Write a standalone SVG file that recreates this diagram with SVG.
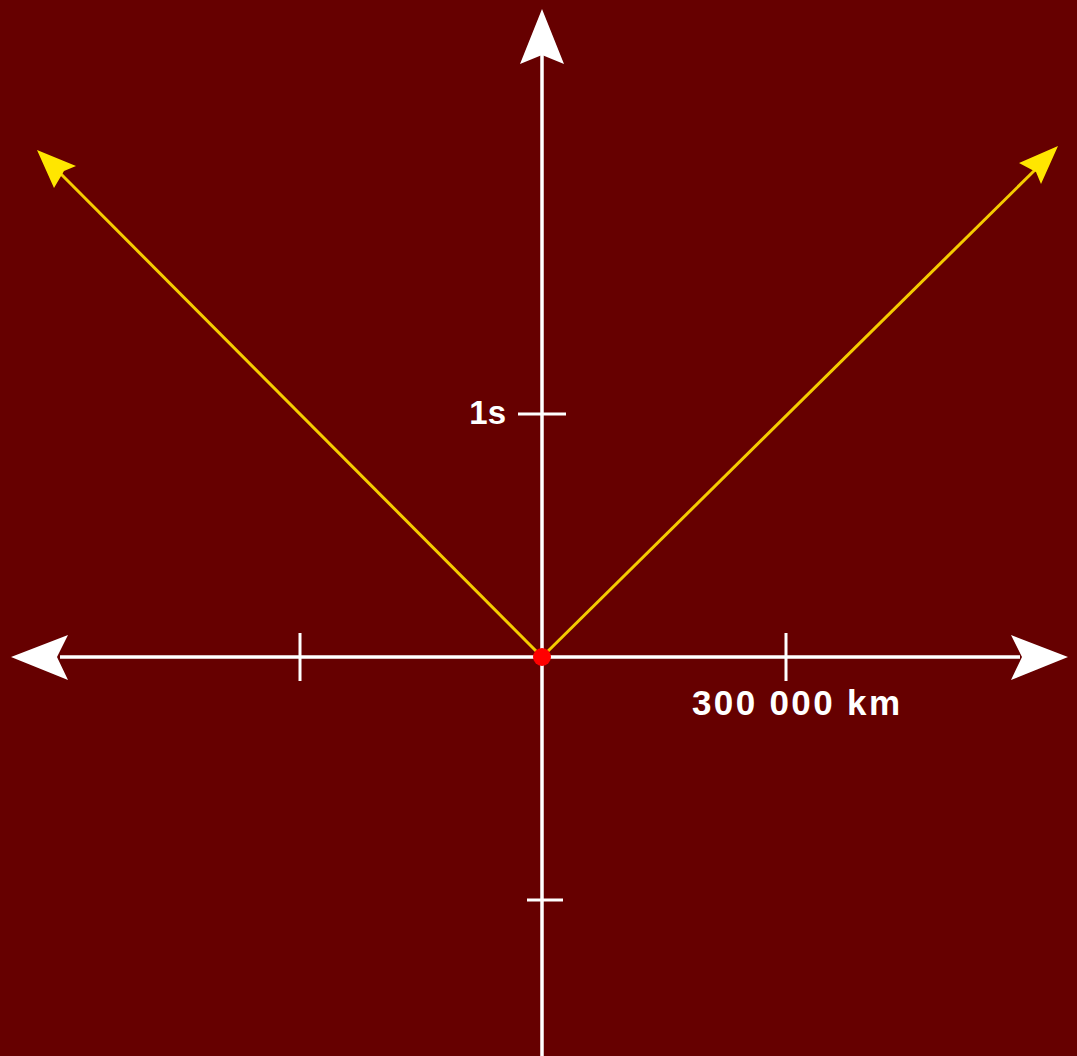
<svg xmlns="http://www.w3.org/2000/svg" width="1077" height="1056" viewBox="0 0 1077 1056">
<style>
.ax{stroke:#ffffff;stroke-width:3.5;fill:none}
.tk{stroke:#ffffff;stroke-width:3;fill:none}
.ray{stroke:#f5cc00;stroke-width:3;fill:none}
.wh{fill:#ffffff}
.yh{fill:#ffe600}
.lbl{font-family:"Liberation Sans",Arial,sans-serif;font-weight:bold;fill:#ffffff}
</style>
<rect x="0" y="0" width="1077" height="1056" fill="#660000"/>
<g id="connectors">
<line class="ax" x1="542" y1="1056" x2="542" y2="50"/>
<line class="ax" x1="60" y1="657" x2="1020" y2="657"/>
<line class="ray" x1="542" y1="657" x2="55" y2="168"/>
<line class="ray" x1="542" y1="657" x2="1040" y2="165"/>
<polygon class="wh" points="542,9 564,64 542,55 520,64"/>
<polygon class="wh" points="11,657 68,635 57,657 68,680"/>
<polygon class="wh" points="1068,657 1011,635 1022,657 1011,680"/>
<polygon class="yh" points="37,150 76,166 64,171 54,188"/>
<polygon class="yh" points="1058,146 1041,184 1036,172 1019,163"/>
</g>
<g id="ticks">
<line class="tk" x1="300" y1="633" x2="300" y2="681"/>
<line class="tk" x1="786" y1="633" x2="786" y2="681"/>
<line class="tk" x1="518" y1="414" x2="566" y2="414"/>
<line class="tk" x1="527" y1="900" x2="563" y2="900"/>
</g>
<g id="origin">
<circle cx="542" cy="657" r="9" fill="#ff0000"/>
</g>
<g id="label-1s">
<text class="lbl" x="506" y="424" font-size="33" text-anchor="end">1s</text>
</g>
<g id="label-km">
<text class="lbl" x="692" y="715" font-size="35" textLength="208" lengthAdjust="spacing">300 000 km</text>
</g>
</svg>
